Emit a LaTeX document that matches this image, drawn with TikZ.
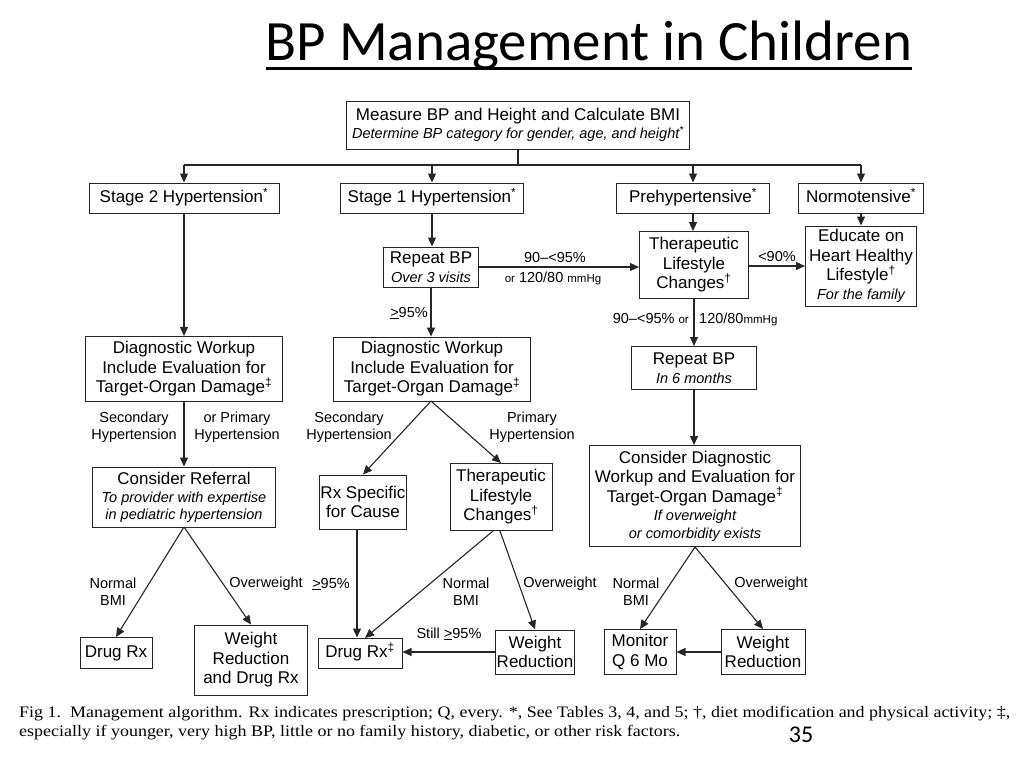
\documentclass[tikz,border=0pt]{standalone}
\usepackage{fontspec}
\usepackage{graphicx}
\setmainfont{Liberation Sans}
\newfontfamily\titlefont{Carlito}
\newfontfamily\capfont{Liberation Serif}
\usetikzlibrary{arrows.meta}
\newcommand{\boxsub}[1]{{\fontsize{14.5}{17}\selectfont\itshape #1}}
\newcommand{\smtxt}[1]{{\fontsize{11.5}{13}\selectfont #1}}
\newcommand{\gefive}{\underline{>}95\%}
\newcommand{\supmark}[1]{\smash{\textsuperscript{#1}}}
\tikzset{
  bx/.style={draw=black!85, line width=1pt, align=center, inner sep=1pt,
    font=\fontsize{17}{19.5}\selectfont},
  onebx/.style={bx, text height=12.5pt, text depth=3.5pt},
  lbl/.style={align=center, inner sep=0pt, font=\fontsize{14.5}{17}\selectfont},
  arr/.style={-{Triangle[length=9pt,width=8pt]}, line width=1.1pt, draw=black!85},
  ln/.style={line width=1.1pt, draw=black!85},
}
\begin{document}
\begin{tikzpicture}[x=1pt,y=-1pt]
\useasboundingbox (0,0) rectangle (1024,768);
\fill[white] (0,0) rectangle (1024,768);
% title
\node[anchor=base, inner sep=0, font=\titlefont\fontsize{57}{60}\selectfont] (title) at (589,60) {BP Management in Children};
\draw[line width=3pt] (title.base west |- 0,68) coordinate (ul1) -- (title.base east |- 0,68) coordinate (ul2);
% boxes
\node[bx, minimum width=343pt, minimum height=48pt] (measure) at (518,125)
  {Measure BP and Height and Calculate BMI\\[-2pt]\boxsub{Determine BP category for gender, age, and height\supmark{*}}};
\node[onebx, minimum width=190pt, minimum height=30pt] (s2) at (184,198) {Stage 2 Hypertension\supmark{*}};
\node[onebx, minimum width=183pt, minimum height=30pt] (s1) at (432,198) {Stage 1 Hypertension\supmark{*}};
\node[onebx, minimum width=153pt, minimum height=30pt] (pre) at (693,198) {Prehypertensive\supmark{*}};
\node[onebx, minimum width=125pt, minimum height=30pt] (normo) at (861,198) {Normotensive\supmark{*}};
\node[bx, minimum width=95pt, minimum height=40pt] (rep1) at (431,267) {Repeat BP\\\boxsub{Over 3 visits}};
\node[bx, minimum width=109pt, minimum height=67pt] (tlc1) at (694,265) {Therapeutic\\Lifestyle\\Changes\supmark{†}};
\node[bx, minimum width=111pt, minimum height=80pt] (edu) at (861,266) {Educate on\\Heart Healthy\\Lifestyle\supmark{†}\\[-1pt]\boxsub{For the family}};
\node[bx, minimum width=197pt, minimum height=65pt] (dw1) at (184,369) {Diagnostic Workup\\Include Evaluation for\\Target-Organ Damage\supmark{‡}};
\node[bx, minimum width=197pt, minimum height=64pt] (dw2) at (432,369) {Diagnostic Workup\\Include Evaluation for\\Target-Organ Damage\supmark{‡}};
\node[bx, minimum width=125pt, minimum height=43pt] (rep2) at (694,368) {Repeat BP\\\boxsub{In 6 months}};
\node[bx, minimum width=183pt, minimum height=60pt] (cref) at (184,497) {Consider Referral\\[-1pt]\boxsub{To provider with expertise}\\[-3pt]\boxsub{in pediatric hypertension}};
\node[bx, minimum width=82pt, minimum height=54pt] (rxs) at (363,502) {Rx Specific\\for Cause};
\node[bx, minimum width=102pt, minimum height=67pt] (tlc2) at (501,497) {Therapeutic\\Lifestyle\\Changes\supmark{†}};
\node[bx, minimum width=211pt, minimum height=101pt] (cdx) at (695,496) {Consider Diagnostic\\Workup and Evaluation for\\Target-Organ Damage\supmark{‡}\\[-1pt]\boxsub{If overweight}\\[-2pt]\boxsub{or comorbidity exists}};
\node[onebx, minimum width=72pt, minimum height=31pt] (drug1) at (116,653) {Drug Rx};
\node[bx, minimum width=113pt, minimum height=70pt] (wrd) at (251,660) {Weight\\Reduction\\and Drug Rx};
\node[onebx, minimum width=84pt, minimum height=30pt] (drug2) at (360,653) {Drug Rx\supmark{‡}};
\node[bx, minimum width=77pt, minimum height=44pt] (wr1) at (535,652) {Weight\\Reduction};
\node[bx, minimum width=72pt, minimum height=45pt] (mon) at (640,652) {Monitor\\Q 6 Mo};
\node[bx, minimum width=84pt, minimum height=45pt] (wr2) at (763,652) {Weight\\Reduction};
% bus
\coordinate (busL) at (184,165);
\coordinate (busR) at (861,165);
\draw[ln] (measure.south) -- (measure.south |- busL);
\draw[ln] (busL) -- (busR);
\draw[arr] (busL) -- (s2.north);
\draw[arr] (s1.north |- busL) -- (s1.north);
\draw[arr] (pre.north |- busL) -- (pre.north);
\draw[arr] (busR) -- (normo.north);
% column 1
\draw[arr] (s2.south) -- (dw1.north);
\draw[arr] (dw1.south) -- (cref.north);
\node[lbl] (l1) at (134,427) {Secondary\\Hypertension};
\node[lbl] (l2) at (237,427) {or Primary\\Hypertension};
\coordinate (cr) at (184,527);
\draw[arr] (cr) -- (drug1.north);
\draw[arr] (cr) -- (wrd.north);
\node[lbl] (l3) at (113,592) {Normal\\BMI};
\node[lbl] (l4) at (266,584) {Overweight};
% column 2
\draw[arr] (s1.south) -- (s1.south |- rep1.north);
\draw[arr] (rep1.east) -- (tlc1.west |- rep1.east);
\node[lbl] (l5) at (555,258) {90–<95\%};
\node[lbl] (l6) at (553,278) {\smtxt{or} 120/80 \smtxt{mmHg}};
\draw[arr] (rep1.south) -- (rep1.south |- dw2.north);
\node[lbl] (l7) at (409,313) {\gefive};
\coordinate (d2) at (431,401);
\draw[arr] (d2) -- (rxs.north);
\draw[arr] (d2) -- (tlc2.north);
\node[lbl] (l8) at (349,427) {Secondary\\Hypertension};
\node[lbl] (l9) at (532,427) {Primary\\Hypertension};
\coordinate (rxb) at (357,529);
\draw[arr] (rxb) -- (rxb |- drug2.north);
\node[lbl] (l10) at (331,584) {\gefive};
\coordinate (t2a) at (493,531);
\coordinate (t2b) at (500,531);
\coordinate (d2in) at (365,638);
\draw[arr] (t2a) -- (d2in);
\draw[arr] (t2b) -- (wr1.north);
\node[lbl] (l11) at (466,592) {Normal\\BMI};
\node[lbl] (l12) at (560,584) {Overweight};
\draw[arr] (wr1.west) -- (wr1.west -| drug2.east);
\node[lbl] (l13) at (449,634) {Still \gefive};
% column 3
\draw[arr] (pre.south) -- (pre.south |- tlc1.north);
\draw[arr] (normo.south) -- (edu.north);
\draw[arr] (tlc1.east |- edu.west) -- (edu.west);
\node[lbl] (l14) at (777,257) {<90\%};
\draw[arr] (tlc1.south) -- (rep2.north);
\node[lbl, anchor=east] (l15) at (689,319) {90–<95\% \smtxt{or}};
\node[lbl, anchor=west] (l16) at (699,319) {120/80\smtxt{mmHg}};
\draw[arr] (rep2.south) -- (rep2.south |- cdx.north);
\draw[arr] (cdx.south) -- (mon.north);
\draw[arr] (cdx.south) -- (wr2.north);
\node[lbl] (l17) at (636,592) {Normal\\BMI};
\node[lbl] (l18) at (771,584) {Overweight};
\draw[arr] (wr2.west) -- (wr2.west -| mon.east);
% caption
\node[anchor=west, inner sep=0, font=\capfont\fontsize{16}{18}\selectfont] (cap1) at (19,714)
  {\resizebox{991pt}{\height}{Fig 1.\ \ Management algorithm. Rx indicates prescription; Q, every. *, See Tables 3, 4, and 5; †, diet modification and physical activity; ‡,}};
\node[anchor=west, inner sep=0, font=\capfont\fontsize{16}{18}\selectfont] (cap2) at (19,733)
  {\resizebox{661pt}{\height}{especially if younger, very high BP, little or no family history, diabetic, or other risk factors.}};
\node[inner sep=0, font=\titlefont\fontsize{24}{26}\selectfont] (pg) at (801,735) {35};
\end{tikzpicture}
\end{document}
